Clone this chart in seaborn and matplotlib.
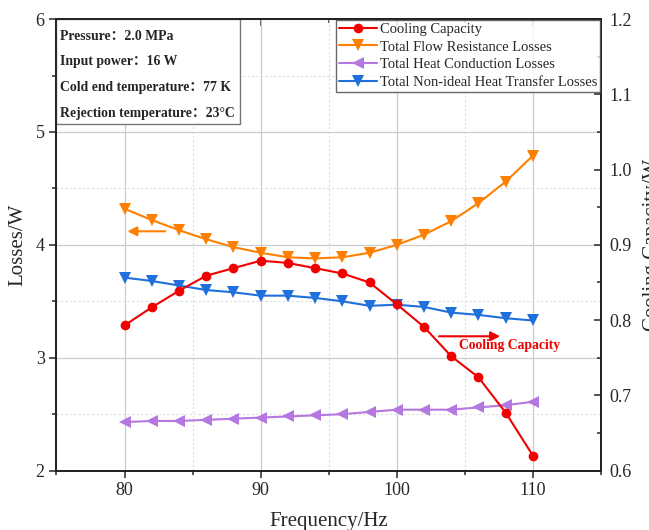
import numpy as np
import pandas as pd
import seaborn as sns
import matplotlib.pyplot as plt
from matplotlib.patches import Rectangle
from matplotlib.ticker import MultipleLocator, NullFormatter

# data
freq = [80, 82, 84, 86, 88, 90, 92, 94, 96, 98, 100, 102, 104, 106, 108, 110]
cooling_capacity = [0.793, 0.817, 0.839, 0.859, 0.869, 0.879, 0.876, 0.869, 0.862, 0.850,
                    0.821, 0.791, 0.752, 0.724, 0.677, 0.620]
flow_resistance = [4.32, 4.22, 4.13, 4.05, 3.98, 3.93, 3.89, 3.88, 3.89, 3.93,
                   4.00, 4.09, 4.21, 4.37, 4.56, 4.79]
heat_conduction = [2.43, 2.44, 2.44, 2.45, 2.46, 2.47, 2.48, 2.49, 2.50, 2.52,
                   2.54, 2.54, 2.54, 2.56, 2.58, 2.61]
nonideal_transfer = [3.71, 3.68, 3.64, 3.60, 3.58, 3.55, 3.55, 3.53, 3.50, 3.46,
                     3.47, 3.45, 3.40, 3.38, 3.35, 3.33]
info_lines = ["Pressure：2.0 MPa", "Input power：16 W",
              "Cold end temperature：77 K", "Rejection temperature：23°C"]

df = pd.DataFrame({"freq": freq, "cc": cooling_capacity, "flow": flow_resistance,
                   "cond": heat_conduction, "trans": nonideal_transfer})

sns.set_style("ticks")
plt.rcParams["font.family"] = ["Liberation Serif", "Noto Sans CJK SC"]
plt.rcParams["mathtext.fontset"] = "stix"

fig = plt.figure(figsize=(6.49, 5.30), dpi=100)
ax = fig.add_axes([0.087, 0.112, 0.839, 0.852])
ax2 = ax.twinx()

red, orange, purple, blue = "#f00000", "#ff8000", "#b478e0", "#1f6fdc"

sns.lineplot(data=df, x="freq", y="flow", ax=ax, color=orange, marker="v", markersize=8.5,
             markeredgewidth=0, lw=1.5, label="Total Flow Resistance Losses", legend=False)
sns.lineplot(data=df, x="freq", y="cond", ax=ax, color=purple, marker="<", markersize=8.5,
             markeredgewidth=0, lw=1.5, label="Total Heat Conduction Losses", legend=False)
sns.lineplot(data=df, x="freq", y="trans", ax=ax, color=blue, marker="v", markersize=8.5,
             markeredgewidth=0, lw=1.5, label="Total Non-ideal Heat Transfer Losses", legend=False)
sns.lineplot(data=df, x="freq", y="cc", ax=ax2, color=red, marker="o", markersize=7,
             markeredgewidth=0, lw=1.5, label="Cooling Capacity", legend=False)

ax.set_xlim(75, 115)
ax.set_ylim(2, 6)
ax2.set_ylim(0.6, 1.2)
ax.xaxis.set_major_locator(MultipleLocator(10))
ax.xaxis.set_minor_locator(MultipleLocator(5))
ax.yaxis.set_major_locator(MultipleLocator(1))
ax.yaxis.set_minor_locator(MultipleLocator(0.5))
ax2.yaxis.set_major_locator(MultipleLocator(0.1))
ax2.yaxis.set_minor_locator(MultipleLocator(0.05))
ax2.yaxis.set_major_formatter(plt.FuncFormatter(lambda v, p: f"{v:.1f}"))

ax.grid(which="major", color="#cccccc", lw=0.9)
ax.grid(which="minor", color="#dddddd", lw=0.8, ls=(0, (2, 2)))
ax.set_axisbelow(True)

ax.tick_params(axis="x", which="both", top=False, direction="out", labelsize=13, width=1.1)
ax.tick_params(axis="y", which="both", direction="out", labelsize=13, width=1.1)
ax.tick_params(which="major", length=5)
ax.tick_params(which="minor", length=3)
ax2.tick_params(axis="y", which="both", direction="in", labelsize=13, width=1.1, pad=6)
ax2.tick_params(which="major", length=5)
ax2.tick_params(which="minor", length=3)

# mirrored ticks on top, pointing inwards
top = ax.secondary_xaxis("top")
top.xaxis.set_major_locator(MultipleLocator(10))
top.xaxis.set_minor_locator(MultipleLocator(5))
top.xaxis.set_major_formatter(NullFormatter())
top.tick_params(which="both", direction="in", width=1.1)
top.tick_params(which="major", length=5)
top.tick_params(which="minor", length=3)

for a in (ax, ax2, top):
    for s in a.spines.values():
        s.set_linewidth(1.3)
        s.set_color("#222222")

ax.set_xlabel("Frequency/Hz", fontsize=15, labelpad=9)
ax.set_ylabel("Losses/W", fontsize=15, labelpad=6)
ax2.set_ylabel("Cooling Capacity/W", fontsize=15, labelpad=8)

# info box in top-left corner
ax.add_patch(Rectangle((0, 0.768), 0.337, 0.232, transform=ax.transAxes,
                       facecolor="white", edgecolor="#777777", lw=1, zorder=5))
for i, line in enumerate(info_lines):
    ax.text(0.006, 0.962 - i * 0.057, line, transform=ax.transAxes, fontsize=9.9,
            fontweight="bold", va="center", ha="left", zorder=6)

# arrows
ax.annotate("", xy=(80, 4.12), xytext=(83.2, 4.12),
            arrowprops=dict(arrowstyle="-|>", color=orange, lw=1.5, mutation_scale=14))
ax.annotate("", xy=(107.8, 3.19), xytext=(102.9, 3.19),
            arrowprops=dict(arrowstyle="-|>", color=red, lw=1.5, mutation_scale=14))
ax.text(108.3, 3.11, "Cooling Capacity", color=red, fontsize=9.8, fontweight="bold",
        ha="center", va="center")

h1, l1 = ax.get_legend_handles_labels()
h2, l2 = ax2.get_legend_handles_labels()
leg = ax2.legend(h2 + h1, l2 + l1, loc="upper right", fontsize=10.5, frameon=True,
                 fancybox=False, borderaxespad=0.05, handlelength=2.6, handletextpad=0.2,
                 labelspacing=0.3, borderpad=0.2)
leg.get_frame().set_edgecolor("#444444")
leg.get_frame().set_linewidth(1)

fig.savefig("out.png", dpi=100)
